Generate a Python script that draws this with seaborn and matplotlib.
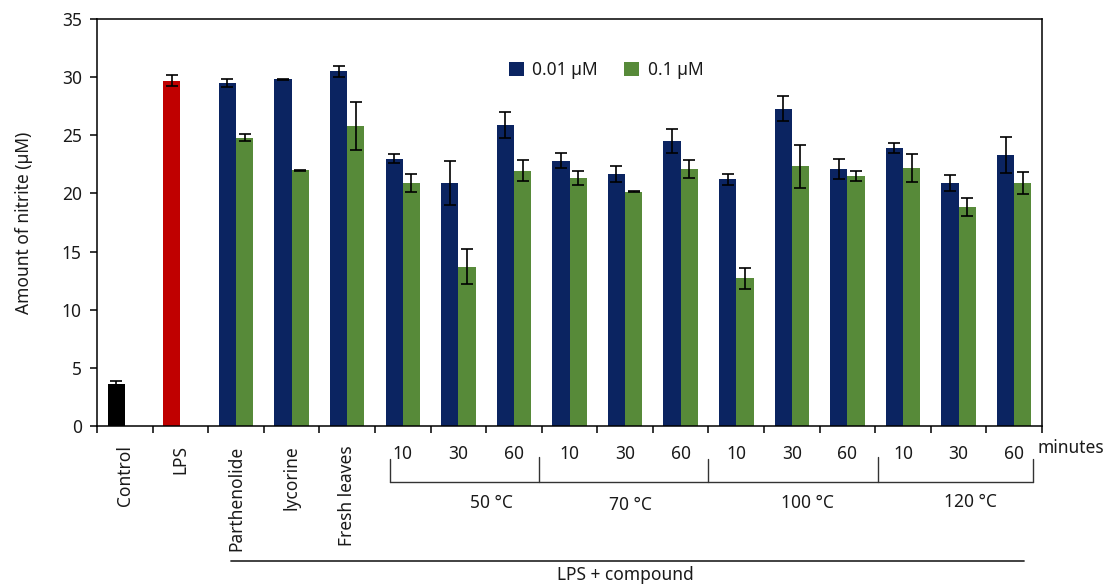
import numpy as np
import pandas as pd
import matplotlib
matplotlib.use("Agg")
import matplotlib.pyplot as plt
import matplotlib.transforms as mtransforms
from matplotlib.lines import Line2D
import seaborn as sns

# ---- data -------------------------------------------------------------
groups = [
    "Control", "LPS", "Parthenolide", "lycorine", "Fresh leaves",
    "50C-10", "50C-30", "50C-60",
    "70C-10", "70C-30", "70C-60",
    "100C-10", "100C-30", "100C-60",
    "120C-10", "120C-30", "120C-60",
]
tick_labels = [
    "Control", "LPS", "Parthenolide", "lycorine", "Fresh leaves",
    "10", "30", "60", "10", "30", "60", "10", "30", "60", "10", "30", "60",
]
doses = ["0.01 µM", "0.1 µM"]

# nitrite (µM) at 0.01 µM, one value per group (Control and LPS only here)
low_dose = [3.6, 29.7, 29.5, 29.8, 30.5, 23.0, 20.9, 25.9,
            22.8, 21.7, 24.5, 21.2, 27.3, 22.1, 23.9, 20.9, 23.3]
low_sd = [0.3, 0.5, 0.35, 0.05, 0.5, 0.4, 1.9, 1.1,
          0.65, 0.7, 1.05, 0.5, 1.1, 0.9, 0.45, 0.65, 1.55]

# nitrite (µM) at 0.1 µM, for Parthenolide onwards
high_dose = [24.8, 22.0, 25.8, 20.9, 13.7, 21.95,
             21.3, 20.15, 22.1, 12.7, 22.35, 21.5, 22.2, 18.85, 20.9]
high_sd = [0.3, 0.05, 2.1, 0.8, 1.5, 0.9,
           0.6, 0.05, 0.8, 0.9, 1.85, 0.4, 1.2, 0.8, 0.95]

temperatures = ["50 °C", "70 °C", "100 °C", "120 °C"]

rows = [(g, doses[0], v, e) for g, v, e in zip(groups, low_dose, low_sd)]
rows += [(g, doses[1], v, e) for g, v, e in zip(groups[2:], high_dose, high_sd)]
df = pd.DataFrame(rows, columns=["group", "dose", "nitrite", "sd"])

# ---- style ------------------------------------------------------------
navy = "#0B2461"
green = "#578A39"
special = {"Control": "#000000", "LPS": "#C00000"}
text_color = "#1a1a1a"
fs = 12.5

sns.set_theme(style="ticks")
plt.rcParams["font.family"] = ["Noto Sans", "DejaVu Sans"]
plt.rcParams["font.size"] = fs
plt.rcParams["axes.edgecolor"] = "black"
plt.rcParams["text.color"] = text_color
plt.rcParams["xtick.color"] = "black"
plt.rcParams["ytick.color"] = "black"
plt.rcParams["xtick.labelcolor"] = text_color
plt.rcParams["ytick.labelcolor"] = text_color

fig = plt.figure(figsize=(11.13, 5.85), dpi=100)
ax = fig.add_axes([0.0872, 0.2718, 0.8490, 0.6957])

sns.barplot(data=df, x="group", y="nitrite", hue="dose",
            order=groups, hue_order=doses, palette=[navy, green],
            width=0.62, errorbar=None, saturation=1, linewidth=0, ax=ax)

# recolour the two reference bars and add the SD error bars
lookup = df.set_index(["group", "dose"])
for bar in ax.patches:
    h = bar.get_height()
    if not np.isfinite(h) or h == 0:
        continue
    cx = bar.get_x() + bar.get_width() / 2
    idx = int(round(cx))
    dose = doses[0] if cx < idx else doses[1]
    g = groups[idx]
    if (g, dose) not in lookup.index:
        continue
    if dose == doses[0] and g in special:
        bar.set_facecolor(special[g])
    sd = lookup.loc[(g, dose), "sd"]
    ax.errorbar(cx, h, yerr=sd, fmt="none", ecolor="black",
                elinewidth=1.2, capsize=4.5, capthick=1.2, zorder=3)

# ---- axes -------------------------------------------------------------
ax.set_ylim(0, 35)
ax.set_xlim(-0.5, len(groups) - 0.5)
ax.set_yticks(np.arange(0, 36, 5))
ax.set_ylabel("Amount of nitrite (µM)", fontsize=fs, color=text_color)
ax.yaxis.set_label_coords(-0.068, 0.5)
ax.set_xlabel("")

ax.set_xticks(range(len(groups)))
ax.set_xticklabels(tick_labels)
ax.set_xticks(np.arange(-0.5, len(groups), 1), minor=True)
ax.tick_params(axis="x", which="major", length=0, pad=14, labelsize=fs)
ax.tick_params(axis="x", which="minor", length=5, width=1.1, direction="out")
ax.tick_params(axis="y", length=5, width=1.1, direction="out", pad=6, labelsize=fs)
for lbl in ax.get_xticklabels()[:5]:
    lbl.set_rotation(90)

for sp in ax.spines.values():
    sp.set_visible(True)
    sp.set_linewidth(1.1)
    sp.set_color("black")

sns.move_legend(ax, "center left", bbox_to_anchor=(0.436, 0.875), ncol=2,
                frameon=False, title=None, fontsize=fs, borderpad=0,
                borderaxespad=0, handlelength=0.85, handleheight=0.85,
                handletextpad=0.5, columnspacing=1.5)

# ---- group brackets below the axis ------------------------------------
trans = mtransforms.blended_transform_factory(ax.transData, ax.transAxes)
line_kw = dict(color="#333333", lw=1.0, transform=trans, clip_on=False)

y_base = -0.1376
ax.add_line(Line2D([4.77, 16.33], [y_base, y_base], **line_kw))
for xv, ytop in [(4.77, -0.081), (7.45, -0.076), (10.5, -0.081),
                 (13.55, -0.076), (16.33, -0.081)]:
    ax.add_line(Line2D([xv, xv], [ytop, y_base], **line_kw))

for name, xv, yv in zip(temperatures, [6.59, 9.1, 12.28, 15.22],
                        [-0.189, -0.194, -0.189, -0.187]):
    ax.text(xv, yv, name, transform=trans, ha="center", va="center",
            fontsize=fs, color=text_color)

ax.text(16.42, -0.054, "minutes", transform=trans, ha="left", va="center",
        fontsize=fs, color=text_color)

ax.add_line(Line2D([1.91, 16.17], [-0.332, -0.332], color="#333333", lw=1.3,
                   transform=trans, clip_on=False))
ax.text(9.0, -0.366, "LPS + compound", transform=trans, ha="center",
        va="center", fontsize=fs, color=text_color)

fig.savefig("out.png", dpi=100)
